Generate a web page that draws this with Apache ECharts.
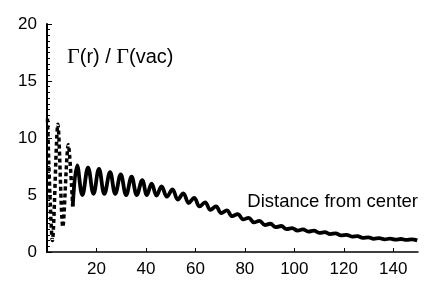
<!DOCTYPE html>
<html>
<head>
<meta charset="utf-8">
<script src="https://cdn.jsdelivr.net/npm/echarts@6/dist/echarts.min.js"></script>
<style>
html,body{margin:0;padding:0;background:#fff;}
#c{width:436px;height:290px;}
</style>
</head>
<body>
<div id="c"></div>
<script>
// Near-center region (drawn dashed)
var nearDistance = [0.2, 2.2, 4.4, 6.4, 8.6, 10.4];
var nearGamma    = [11.7, 1.0, 11.2, 2.2, 9.4, 4.0];

// Outer region (drawn solid)
var farDistance = [10.4, 12.2, 14.3, 16.6, 18.8, 21.0, 23.2, 25.5, 27.6, 29.8, 32.0, 34.2, 36.3, 38.5, 40.4, 42.3, 44.3, 46.3,
  48.5, 50.7, 52.9, 55.1, 57.3, 59.5, 61.7, 63.9, 66.1, 68.3, 70.5, 72.7, 74.9, 77.1, 79.3, 81.5, 83.7, 85.9, 88.1, 90.3,
  92.5, 94.7, 96.9, 99.1, 101.3, 103.5, 105.7, 107.9, 110.1, 112.3, 114.5, 116.7, 118.9, 121.1, 123.3, 125.5, 127.7, 129.9,
  132.1, 134.3, 136.5, 138.7, 140.9, 143.1, 145.3, 147.5, 149.7];
var farGamma = [4.0, 7.6, 5.0, 7.4, 5.1, 7.3, 5.1, 7.0, 5.1, 6.8, 5.0, 6.6, 5.0, 6.3, 5.0, 6.0, 4.95, 5.75,
  4.85, 5.5, 4.6, 5.15, 4.3, 4.75, 4.0, 4.35, 3.7, 4.0, 3.42, 3.65, 3.14, 3.33, 2.86, 3.0, 2.6, 2.73, 2.37, 2.48,
  2.18, 2.28, 2.01, 2.09, 1.88, 1.98, 1.79, 1.87, 1.67, 1.74, 1.57, 1.64, 1.46, 1.51, 1.35, 1.39, 1.24, 1.28,
  1.16, 1.21, 1.11, 1.17, 1.08, 1.14, 1.06, 1.11, 1.02];

var yTicks = [0, 5, 10, 15, 20];
var xTicks = [20, 40, 60, 80, 100, 120, 140];
var xLabel = 'Distance from center';

function pairs(xs, ys){ return xs.map(function(x,i){ return [x, ys[i]]; }); }

var chart = echarts.init(document.getElementById('c'), null, {renderer:'canvas'});
var FONT = '"Liberation Sans", Arial, Helvetica, sans-serif';
var SERIF = '"Liberation Serif", "Times New Roman", serif';
chart.setOption({
  animation:false,
  backgroundColor:'#fff',
  grid:{left:47, right:18, top:24, bottom:38},
  xAxis:{
    type:'value', min:0, max:150, interval:20,
    axisLine:{show:true, onZero:false, lineStyle:{color:'#000', width:1.5}},
    axisTick:{show:true, inside:true, length:4, lineStyle:{color:'#000', width:1}},
    splitLine:{show:false},
    axisLabel:{color:'#000', fontSize:17, fontFamily:FONT, margin:9,
      showMinLabel:false, showMaxLabel:false,
      formatter:function(v){ return xTicks.indexOf(v) >= 0 ? String(v) : ''; }}
  },
  yAxis:{
    type:'value', min:0, max:20, interval:5,
    axisLine:{show:true, onZero:false, lineStyle:{color:'#000', width:2}},
    axisTick:{show:true, inside:true, length:5, lineStyle:{color:'#000', width:1}},
    minorTick:{show:true, splitNumber:10, length:3, lineStyle:{color:'#000', width:1}},
    splitLine:{show:false},
    axisLabel:{color:'#000', fontSize:17, fontFamily:FONT, margin:10,
      formatter:function(v){ return yTicks.indexOf(v) >= 0 ? String(v) : ''; }}
  },
  graphic:[
    {type:'text', left:67, top:46, style:{
      text:'{g|Γ}{t|(r) / }{g|Γ}{t|(vac)}',
      rich:{
        g:{fontFamily:SERIF, fontSize:22, fill:'#000'},
        t:{fontFamily:FONT, fontSize:20, fill:'#000'}
      }}},
    {type:'text', right:18, top:192, style:{text:xLabel, fill:'#000', font:'18.5px ' + FONT}}
  ],
  series:[
    {type:'line', data:pairs(nearDistance, nearGamma), showSymbol:false, smooth:0.3,
      lineStyle:{color:'#000', width:3.5, type:[4,3]}, clip:true},
    {type:'line', data:pairs(farDistance, farGamma), showSymbol:false, smooth:0.4,
      lineStyle:{color:'#000', width:3.8}, clip:true}
  ]
});
</script>
</body>
</html>
